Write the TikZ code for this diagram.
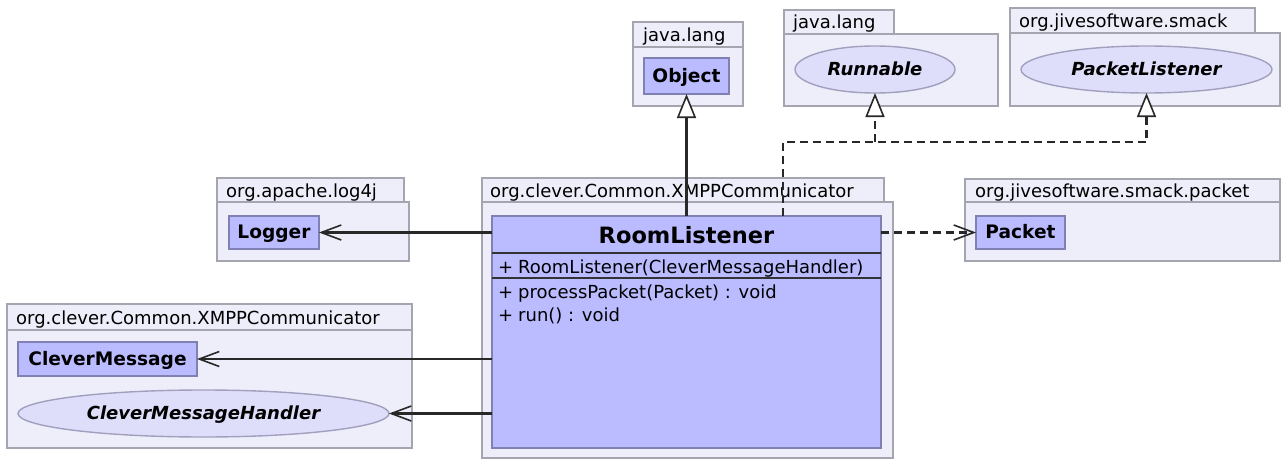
\documentclass[tikz,border=0pt]{standalone}
\usepackage{fontspec}
\setmainfont{DejaVu Sans}
\usetikzlibrary{arrows.meta,shapes.geometric}
\definecolor{pkgfill}{RGB}{238,238,250}
\definecolor{pkgdraw}{RGB}{165,165,175}
\definecolor{clsfill}{RGB}{187,187,255}
\definecolor{clsdraw}{RGB}{128,128,178}
\definecolor{ifcfill}{RGB}{222,222,250}
\definecolor{ifcdraw}{RGB}{160,160,190}
\definecolor{lnk}{RGB}{40,40,40}
\begin{document}
\begin{tikzpicture}[x=1pt,y=-1pt,
 box/.style={rectangle, anchor=north west, inner sep=0pt, outer sep=0pt},
 pkg/.style={box, fill=pkgfill, draw=pkgdraw, line width=1.4pt},
 pkglabel/.style={anchor=base west, inner sep=0pt, font=\fontsize{18}{20}\selectfont},
 cls/.style={box, fill=clsfill, draw=clsdraw, line width=1.4pt, font=\fontsize{18.6}{20}\selectfont\bfseries, text height=13pt, text depth=1pt},
 ifc/.style={ellipse, inner sep=0pt, outer sep=0pt, fill=ifcfill, draw=ifcdraw, line width=1.4pt, font=\fontsize{18}{20}\selectfont\bfseries\itshape, text height=13pt, text depth=1pt},
 assoc/.style={draw=lnk, line width=2.2pt, -{Straight Barb[length=20pt,width=15pt,line width=1.6pt]}},
 dep/.style={assoc, dash pattern=on 8pt off 5pt},
 gen/.style={draw=lnk, line width=2.2pt, -{Triangle[length=24pt,width=19pt,fill=white,line width=1.6pt]}},
 real/.style={gen, dash pattern=on 8pt off 5pt},
 member/.style={anchor=base west, inner sep=0pt, font=\fontsize{18}{20}\selectfont},
 sep/.style={draw=black!80, line width=1.8pt},
]
\useasboundingbox[fill=white] (0,0) rectangle (1283,460);

% java.lang (Object)
\node[pkg, minimum width=110pt, minimum height=25pt] (tabA) at (633,22) {};
\node[pkg, minimum width=110pt, minimum height=59pt] (bodyA) at (633,47) {};
\node[pkglabel] (labA) at ([xshift=10pt,yshift=5pt]tabA.south west) {java.lang};
\node[cls, minimum width=85pt, minimum height=36pt] (obj) at (644,58) {Object};

% java.lang (Runnable)
\node[pkg, minimum width=110pt, minimum height=24pt] (tabB) at (784,10) {};
\node[pkg, minimum width=214pt, minimum height=72pt] (bodyB) at (784,34) {};
\node[pkglabel] (labB) at ([xshift=9pt,yshift=5pt]tabB.south west) {java.lang};
\node[ifc, minimum width=160pt, minimum height=47pt] (run) at (875,69.5) {Runnable};

% org.jivesoftware.smack
\node[pkg, minimum width=245pt, minimum height=25pt] (tabC) at (1010,8) {};
\node[pkg, minimum width=270pt, minimum height=73pt] (bodyC) at (1010,33) {};
\node[pkglabel] (labC) at ([xshift=9pt,yshift=5pt]tabC.south west) {org.jivesoftware.smack};
\node[ifc, minimum width=251pt, minimum height=47pt] (pl) at (1146.5,69.5) {PacketListener};

% org.apache.log4j
\node[pkg, minimum width=187pt, minimum height=24pt] (tabD) at (217,178) {};
\node[pkg, minimum width=192pt, minimum height=59pt] (bodyD) at (217,202) {};
\node[pkglabel] (labD) at ([xshift=9pt,yshift=5pt]tabD.south west) {org.apache.log4j};
\node[cls, minimum width=90pt, minimum height=33pt] (logger) at (229,216) {Logger};

% main package
\node[pkg, minimum width=402pt, minimum height=24pt] (tabE) at (482,178) {};
\node[pkg, minimum width=411pt, minimum height=256pt] (bodyE) at (482,202) {};
\node[pkglabel] (labE) at ([xshift=8pt,yshift=5pt]tabE.south west) {org.clever.Common.XMPPCommunicator};
\node[cls, minimum width=389pt, minimum height=232pt] (rl) at (492,216) {};
\node[anchor=base, inner sep=0pt, font=\fontsize{22.5}{26}\selectfont\bfseries] (rlt) at (686.5,243) {RoomListener};
\draw[sep] (492,253) -- (881,253);
\draw[sep] (492,278) -- (881,278);
\node[member] (p1) at (498,273) {+};
\node[member] (m1) at (518,273) {RoomListener(CleverMessageHandler)};
\node[member] (p2) at (498,298) {+};
\node[member] (m2) at (518,298) {processPacket(Packet) : void};
\node[member] (p3) at (498,321) {+};
\node[member] (m3) at (518,321) {run() : void};

% org.jivesoftware.smack.packet
\node[pkg, minimum width=315pt, minimum height=23pt] (tabF) at (965,179) {};
\node[pkg, minimum width=315pt, minimum height=59pt] (bodyF) at (965,202) {};
\node[pkglabel] (labF) at ([xshift=10pt,yshift=5pt]tabF.south west) {org.jivesoftware.smack.packet};
\node[cls, minimum width=89pt, minimum height=33pt] (pkt) at (976,216) {Packet};

% left bottom package
\node[pkg, minimum width=405pt, minimum height=26pt] (tabG) at (7,304) {};
\node[pkg, minimum width=405pt, minimum height=118pt] (bodyG) at (7,330) {};
\node[pkglabel] (labG) at ([xshift=9pt,yshift=6pt]tabG.south west) {org.clever.Common.XMPPCommunicator};
\node[cls, minimum width=179pt, minimum height=34pt] (cm) at (18,342) {CleverMessage};
\node[ifc, minimum width=371pt, minimum height=47pt] (cmh) at (203.5,413.5) {CleverMessageHandler};

% connectors
\draw[gen] (rl.north -| obj.south) -- (obj.south);
\coordinate (dj) at (783,142);
\draw[real] (rl.north -| dj) -- (dj) -- (dj -| pl.south) -- (pl.south);
\draw[real] (dj -| run.south) -- (run.south);
\draw[assoc] (rl.west |- logger.east) -- (logger.east);
\draw[dep] (rl.east |- pkt.west) -- (pkt.west);
\draw[assoc] (rl.west |- cm.east) -- (cm.east);
\draw[assoc] (rl.west |- cmh.east) -- (cmh.east);
\end{tikzpicture}
\end{document}
